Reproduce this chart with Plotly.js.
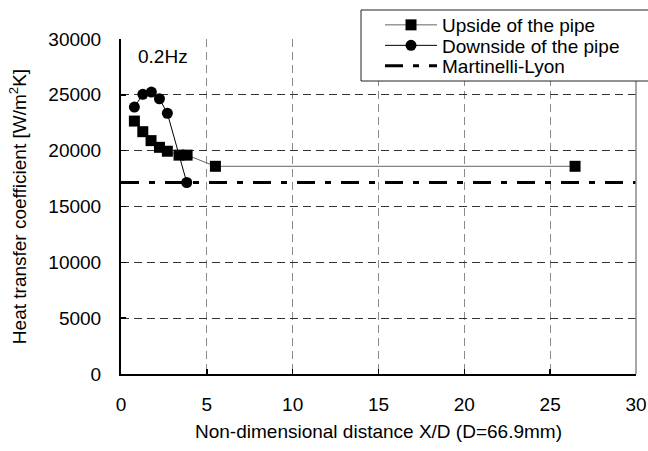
<!DOCTYPE html>
<html>
<head>
<meta charset="utf-8">
<script src="https://cdn.plot.ly/plotly-3.0.1.min.js"></script>
<style>
  html, body { margin: 0; padding: 0; background: #fff; }
  #chart { width: 648px; height: 451px; }
</style>
</head>
<body>
<div id="chart"></div>
<script>
// Non-dimensional distance X/D (D = 66.9 mm)
const upsideX = [0.78, 1.27, 1.75, 2.24, 2.7, 3.38, 3.85, 5.5, 26.45];
// Heat transfer coefficient, upside of the pipe [W/m2K]
const upsideY = [22650, 21700, 20900, 20300, 19950, 19600, 19600, 18600, 18600];

const downsideX = [0.78, 1.27, 1.77, 2.24, 2.7, 3.83];
// Heat transfer coefficient, downside of the pipe [W/m2K]
const downsideY = [23900, 25050, 25250, 24650, 23350, 17150];

// Martinelli-Lyon correlation (constant over the section)
const mlX = [0, 30];
const mlY = [17150, 17150];

const seriesNames = ['Upside of the pipe', 'Downside of the pipe', 'Martinelli-Lyon'];
const xTicks = [0, 5, 10, 15, 20, 25, 30];
const yTicks = [0, 5000, 10000, 15000, 20000, 25000, 30000];
const freqLabel = '0.2Hz';

const FONT = 'Liberation Sans, Arial, sans-serif';
const FS = 19;

// plotting-area geometry in pixels
const PL = 121, PR = 636, PT = 39, PB = 374;
const pxX = px => (px - PL) / (PR - PL);
const pxY = py => (PB - py) / (PB - PT);

const traces = [
  {
    x: upsideX, y: upsideY, name: seriesNames[0], type: 'scatter', mode: 'lines+markers',
    line: { color: '#666666', width: 1 },
    marker: { symbol: 'square', size: 11, color: '#000' },
    legend: 'legend'
  },
  {
    x: downsideX, y: downsideY, name: seriesNames[1], type: 'scatter', mode: 'lines+markers',
    line: { color: '#000', width: 1 },
    marker: { symbol: 'circle', size: 11, color: '#000' },
    legend: 'legend2'
  },
  {
    x: mlX, y: mlY, name: seriesNames[2], type: 'scatter', mode: 'lines',
    line: { color: '#000', width: 3, dash: '18px,10px,6px,10px' },
    legend: 'legend3'
  }
];

const legendBase = {
  xref: 'paper', yref: 'paper',
  x: pxX(380), xanchor: 'left', yanchor: 'middle',
  bgcolor: 'rgba(0,0,0,0)', borderwidth: 0,
  itemwidth: 52,
  font: { family: FONT, size: FS, color: '#000' }
};

const layout = {
  width: 648, height: 451,
  margin: { l: PL, r: 648 - PR, t: PT, b: 451 - PB, pad: 0, autoexpand: false },
  paper_bgcolor: '#fff', plot_bgcolor: '#fff',
  font: { family: FONT, size: FS, color: '#000' },
  showlegend: true,
  legend: Object.assign({}, legendBase, { y: pxY(25) }),
  legend2: Object.assign({}, legendBase, { y: pxY(45.5) }),
  legend3: Object.assign({}, legendBase, { y: pxY(66) }),
  xaxis: {
    range: [0, 30], tickvals: xTicks, ticktext: xTicks.map(String),
    showline: true, linecolor: '#000', linewidth: 2,
    ticks: 'inside', ticklen: 5, tickwidth: 1.5, tickcolor: '#000',
    ticklabelstandoff: 12,
    showgrid: true, gridcolor: '#8a8a8a', gridwidth: 1, griddash: '8px,5px',
    zeroline: false, fixedrange: true, automargin: false,
    title: { text: 'Non-dimensional distance X/D (D=66.9mm)', font: { family: FONT, size: FS }, standoff: 11 }
  },
  yaxis: {
    range: [0, 30000], tickvals: yTicks, ticktext: yTicks.map(String),
    showline: true, linecolor: '#000', linewidth: 2,
    ticks: 'inside', ticklen: 5, tickwidth: 1.5, tickcolor: '#000',
    ticklabelstandoff: 14,
    showgrid: true, gridcolor: '#333333', gridwidth: 1, griddash: '8px,5px',
    zeroline: false, fixedrange: true, automargin: false,
    title: { text: 'Heat transfer coefficient [W/m<sup>2</sup>K]', font: { family: FONT, size: FS }, standoff: 17 }
  },
  shapes: [
    // right frame edge of the plotting area
    { type: 'line', xref: 'paper', yref: 'paper', x0: 1, x1: 1, y0: 0, y1: 1,
      line: { color: '#8a8a8a', width: 1.5 }, layer: 'above' },
    // frame around the legend entries
    { type: 'rect', xref: 'paper', yref: 'paper',
      x0: pxX(361), x1: pxX(652), y0: pxY(81), y1: pxY(10),
      fillcolor: '#fff', line: { color: '#222', width: 1 }, layer: 'above' }
  ],
  annotations: [
    { text: freqLabel, x: 0.85, y: 28400, xref: 'x', yref: 'y',
      xanchor: 'left', yanchor: 'middle', showarrow: false,
      font: { family: FONT, size: FS, color: '#000' } }
  ]
};

Plotly.newPlot('chart', traces, layout, { staticPlot: true, displayModeBar: false });
</script>
</body>
</html>
